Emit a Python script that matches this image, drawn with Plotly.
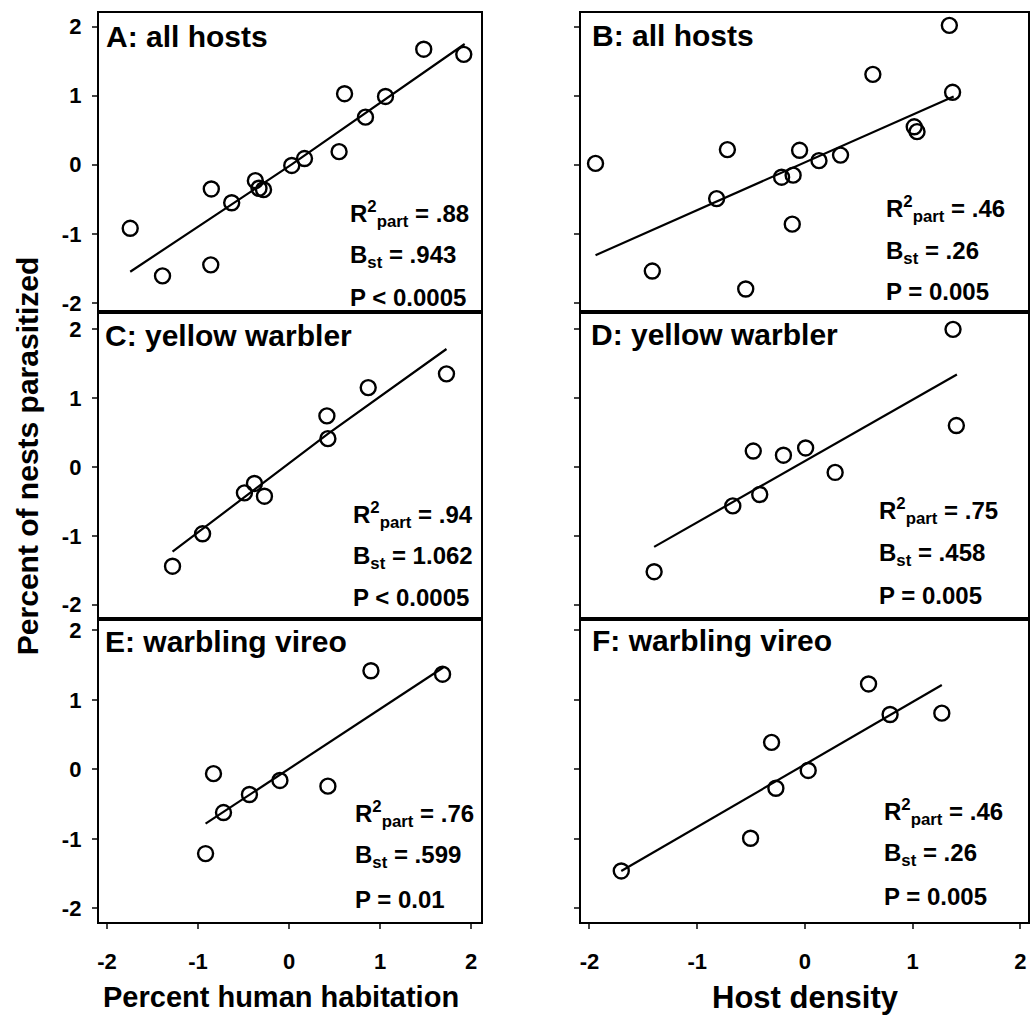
import plotly.graph_objects as go

# ---------------- data ----------------
# Panel A: all hosts vs percent human habitation (partial residuals)
a_x = [-1.745, -1.39, -0.86, -0.854, -0.63, -0.37, -0.33, -0.28, 0.03, 0.17, 0.55, 0.61, 0.84, 1.06, 1.48, 1.92]
a_y = [-0.92, -1.61, -1.45, -0.35, -0.55, -0.23, -0.34, -0.36, -0.01, 0.09, 0.19, 1.03, 0.69, 0.99, 1.675, 1.60]
a_fit_x = [-1.745, 0.03, 1.93]
a_fit_y = [-1.55, 0.005, 1.75]

# Panel B: all hosts vs host density
b_x = [-1.944, -1.417, -0.72, -0.82, -0.55, -0.217, -0.11, -0.118, -0.05, 0.13, 0.33, 0.63, 1.014, 1.04, 1.34, 1.37]
b_y = [0.02, -1.54, 0.22, -0.49, -1.80, -0.18, -0.15, -0.86, 0.21, 0.06, 0.14, 1.31, 0.55, 0.48, 2.02, 1.05]
b_fit_x = [-1.944, 1.38]
b_fit_y = [-1.31, 0.99]

# Panel C: yellow warbler vs percent human habitation
c_x = [-1.28, -0.95, -0.49, -0.38, -0.27, 0.416, 0.427, 0.87, 1.73]
c_y = [-1.44, -0.97, -0.377, -0.24, -0.425, 0.74, 0.41, 1.15, 1.35]
c_fit_x = [-1.28, 0.427, 1.73]
c_fit_y = [-1.23, 0.48, 1.71]

# Panel D: yellow warbler vs host density
d_x = [1.374, 1.405, -0.48, -0.2, 0.006, 0.28, -0.42, -0.67, -1.40]
d_y = [1.995, 0.60, 0.23, 0.17, 0.275, -0.08, -0.40, -0.565, -1.52]
d_fit_x = [-1.40, 1.41]
d_fit_y = [-1.16, 1.34]

# Panel E: warbling vireo vs percent human habitation
e_x = [0.90, 1.687, -0.83, -0.10, 0.427, -0.435, -0.72, -0.917]
e_y = [1.42, 1.37, -0.06, -0.158, -0.24, -0.36, -0.62, -1.21]
e_fit_x = [-0.917, -0.113, 1.694]
e_fit_y = [-0.78, -0.086, 1.467]

# Panel F: warbling vireo vs host density
f_x = [-1.705, -0.505, -0.31, -0.27, 0.03, 0.59, 0.79, 1.27]
f_y = [-1.46, -0.99, 0.39, -0.27, -0.014, 1.23, 0.79, 0.81]
f_fit_x = [-1.705, 1.27]
f_fit_y = [-1.46, 1.214]

panel_titles = ["A: all hosts", "B: all hosts", "C: yellow warbler",
                "D: yellow warbler", "E: warbling vireo", "F: warbling vireo"]
r2_part = [".88", ".46", ".94", ".75", ".76", ".46"]
b_st = [".943", ".26", "1.062", ".458", ".599", ".26"]
p_text = ["P < 0.0005", "P = 0.005", "P < 0.0005", "P = 0.005", "P = 0.01", "P = 0.005"]

tick_vals = [-2, -1, 0, 1, 2]
tick_text = ["-2", "-1", "0", "1", "2"]
x_title_left = "Percent human habitation"
x_title_right = "Host density"
y_title = "Percent of nests parasitized"

# ---------------- layout geometry ----------------
W, H = 1031, 1029
FONT = "Liberation Sans, Arial, sans-serif"


def px(x):
    return x / W


def py(y):
    return 1 - y / H


col_dom = [(97, 480), (580, 1028)]
row_dom = [(13, 313), (313, 621), (621, 926)]
x_ranges = [[-2.09, 2.11], [-2.08, 2.07]]
y_ranges = [[-2.13, 2.2], [-2.2, 2.25], [-2.2, 2.17]]

panels = [
    (a_x, a_y, a_fit_x, a_fit_y),
    (b_x, b_y, b_fit_x, b_fit_y),
    (c_x, c_y, c_fit_x, c_fit_y),
    (d_x, d_y, d_fit_x, d_fit_y),
    (e_x, e_y, e_fit_x, e_fit_y),
    (f_x, f_y, f_fit_x, f_fit_y),
]

# text anchors (pixel positions) for panel labels and statistics
title_pos = [(102, 37), (589, 36), (101, 337), (588, 336), (101, 644), (589, 643)]
stat_left = [347, 884, 350, 877, 352, 882]
stat_rows = [(215, 258, 299), (210, 253, 293), (517, 560, 600),
             (513, 557, 598), (817, 860, 903), (815, 858, 900)]

fig = go.Figure()
layout = dict(
    width=W, height=H,
    margin=dict(l=0, r=0, t=0, b=0),
    paper_bgcolor="white", plot_bgcolor="white",
    showlegend=False,
    font=dict(family=FONT, color="black"),
)
annotations = []
bold = dict(family=FONT, color="black", weight="bold")

for i, (xs, ys, fx, fy) in enumerate(panels):
    row, col = divmod(i, 2)
    n = i + 1
    xa = "x" if n == 1 else f"x{n}"
    ya = "y" if n == 1 else f"y{n}"
    fig.add_trace(go.Scatter(x=fx, y=fy, mode="lines", xaxis=xa, yaxis=ya,
                             line=dict(color="black", width=2.2), hoverinfo="skip"))
    fig.add_trace(go.Scatter(x=xs, y=ys, mode="markers", xaxis=xa, yaxis=ya,
                             marker=dict(symbol="circle-open", size=15, color="black",
                                         line=dict(width=2.4, color="black"))))
    bottom = row == 2
    layout["xaxis" if n == 1 else f"xaxis{n}"] = dict(
        domain=[px(col_dom[col][0]), px(col_dom[col][1])],
        range=x_ranges[col], anchor=ya,
        showgrid=False, zeroline=False,
        showline=True, mirror=True, linecolor="black", linewidth=2,
        ticks="outside" if bottom else "", ticklen=5, tickwidth=1.5,
        tickvals=tick_vals, ticktext=tick_text,
        showticklabels=bottom, ticklabelstandoff=13,
        tickfont=dict(bold, size=22),
    )
    layout["yaxis" if n == 1 else f"yaxis{n}"] = dict(
        domain=[py(row_dom[row][1]), py(row_dom[row][0])],
        range=y_ranges[row], anchor=xa,
        showgrid=False, zeroline=False,
        showline=True, mirror=True, linecolor="black", linewidth=2,
        ticks="outside", ticklen=5, tickwidth=1.5,
        tickvals=tick_vals, ticktext=tick_text,
        showticklabels=(col == 0), ticklabelstandoff=6,
        tickfont=dict(bold, size=22),
    )

    tx, ty = title_pos[i]
    annotations.append(dict(text=panel_titles[i], x=px(tx), y=py(ty), xref="paper", yref="paper",
                            xanchor="left", yanchor="middle", showarrow=False,
                            font=dict(bold, size=30)))
    stats = [f"R<sup>2</sup><sub>part</sub> = {r2_part[i]}",
             f"B<sub>st</sub> = {b_st[i]}",
             p_text[i]]
    for s, sy in zip(stats, stat_rows[i]):
        annotations.append(dict(text=s, x=px(stat_left[i]), y=py(sy), xref="paper", yref="paper",
                                xanchor="left", yanchor="middle", showarrow=False,
                                font=dict(bold, size=24)))

# shared axis titles
annotations.append(dict(text=y_title, x=px(25), y=py(458), xref="paper", yref="paper",
                        textangle=-90, showarrow=False, xanchor="center", yanchor="middle",
                        font=dict(bold, size=30)))
annotations.append(dict(text=x_title_left, x=px(280), y=py(1001), xref="paper", yref="paper",
                        showarrow=False, xanchor="center", yanchor="middle",
                        font=dict(bold, size=29)))
annotations.append(dict(text=x_title_right, x=px(805), y=py(1001), xref="paper", yref="paper",
                        showarrow=False, xanchor="center", yanchor="middle",
                        font=dict(bold, size=31)))

layout["annotations"] = annotations
fig.update_layout(**layout)
fig.write_html("out.html")
